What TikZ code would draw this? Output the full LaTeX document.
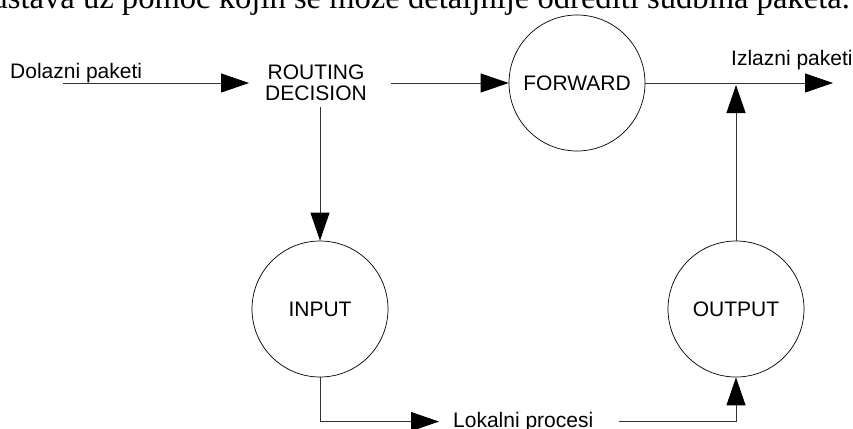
\documentclass[tikz,border=0pt]{standalone}
\usepackage{fontspec}
\setmainfont{Liberation Sans}
\newfontfamily\serifbody{Liberation Serif}
\usetikzlibrary{arrows.meta}
\begin{document}
\begin{tikzpicture}[x=1pt,y=-1pt,
  chain/.style={circle, draw, line width=0.7pt, minimum size=136pt, inner sep=0pt,
    font=\fontsize{21}{24}\selectfont},
  tag/.style={font=\fontsize{21}{21}\selectfont, inner sep=0pt},
  link/.style={line width=0.9pt, draw=black!80},
  flow/.style={link, -{Triangle[length=28pt,width=19pt,color=black]}},
]
\useasboundingbox (0,0) rectangle (853,428);
\clip (0,0) rectangle (853,428);

% running text line above the figure
\node[anchor=base east, inner sep=0pt, font=\serifbody\fontsize{32.6}{36}\selectfont]
  (caption) at (850,9) {ustava uz pomoć kojih se može detaljnije odrediti sudbina paketa.};

% nodes
\node[tag, anchor=base west] (inlabel) at (10,78) {Dolazni paketi};
\coordinate (in) at (63,83);
\node[tag, align=center] (routing) at (316,83) {ROUTING\\DECISION};
\node[chain] (forward) at (577,83) {FORWARD};
\node[chain] (input) at (320,309) {INPUT};
\node[chain] (output) at (736,309) {OUTPUT};
\coordinate (out) at (833,83);
\node[tag, anchor=base west] (outlabel) at (731,65) {Izlazni paketi};
\node[tag, anchor=base west] (lokal) at (453,427) {Lokalni procesi};

% connectors
\draw[flow] (in) -- ([xshift=-16pt]routing.west |- in);
\draw[flow] ([xshift=24pt]routing.east |- forward) -- (forward.west);
\draw[flow] (forward.east) -- (out);
\draw[flow] ([yshift=-6pt]routing.south -| input.north) -- (input.north);
\draw[flow] (input.south) |- ([xshift=-14pt]lokal.west);
\draw[flow] ([xshift=26pt]lokal.east) -| (output.south);
\draw[flow, shorten >=2pt] (output.north) -- (output.north |- forward.east);
\end{tikzpicture}
\end{document}
